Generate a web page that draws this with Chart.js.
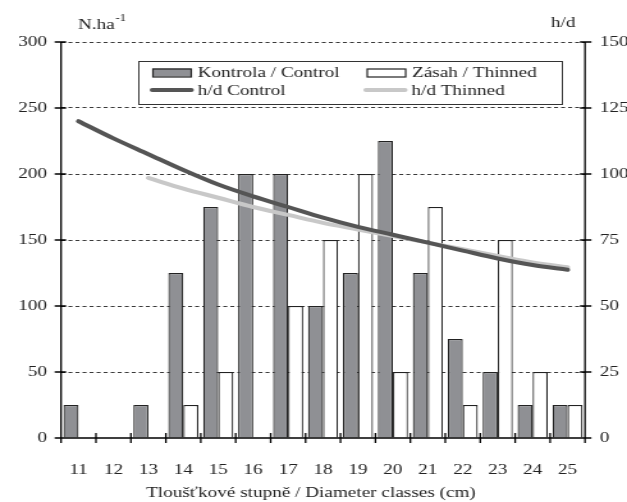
<!DOCTYPE html>
<html>
<head>
<meta charset="utf-8">
<script src="https://cdn.jsdelivr.net/npm/chart.js@4/dist/chart.umd.min.js"></script>
<style>
  html, body { margin: 0; padding: 0; background: #fff; overflow: hidden; }
  #wrap { width: 490px; height: 502px; position: relative; transform: scaleX(1.27959); transform-origin: 0 0; }
</style>
</head>
<body>
<div id="wrap"><canvas id="c" width="490" height="502"></canvas></div>
<script>
// Diameter classes (cm)
const classes = ['11', '12', '13', '14', '15', '16', '17', '18', '19', '20', '21', '22', '23', '24', '25'];
// Stems per hectare
const controlN = [25, 0, 25, 125, 175, 200, 200, 100, 125, 225, 125, 75, 50, 25, 25];
const thinnedN = [0, 0, 0, 25, 50, 0, 100, 150, 200, 50, 175, 25, 150, 50, 25];
// Slenderness ratio h/d
const hdControl = [120, 113.5, 107.5, 101.5, 96, 91.5, 87.5, 83.5, 80, 77, 74, 71, 68, 65.5, 63.7];
const hdThinned = [null, null, 98.5, 94.5, 91, 87.5, 84.5, 81.5, 79, 76.5, 74, 71.5, 69, 66.5, 64.7];
// Axis ticks
const leftTicks = [0, 50, 100, 150, 200, 250, 300];
const rightTicks = [0, 25, 50, 75, 100, 125, 150];

const SERIF = '"Liberation Serif", "DejaVu Serif", serif';
const BAR_GRAY = '#8f9094';

// Legend box inside the plot area, two columns by two rows
const boxLegend = {
  id: 'boxLegend',
  afterDraw(chart) {
    const ctx = chart.ctx;
    const ds = chart.data.datasets;
    ctx.save();
    ctx.fillStyle = '#fff';
    ctx.fillRect(108, 61, 332, 44);
    ctx.strokeStyle = '#333';
    ctx.lineWidth = 1;
    ctx.strokeRect(108.5, 61.5, 331, 43);

    const cells = [
      { d: ds[0], x: 119, y: 72.5 },
      { d: ds[1], x: 286.5, y: 72.5 },
      { d: ds[2], x: 119, y: 90 },
      { d: ds[3], x: 286, y: 90 }
    ];
    ctx.font = '15px ' + SERIF;
    ctx.textBaseline = 'middle';
    ctx.textAlign = 'left';
    cells.forEach(c => {
      if (c.d.type === 'bar') {
        ctx.fillStyle = c.d.backgroundColor;
        ctx.fillRect(c.x, c.y - 4, 30.5, 8);
        ctx.strokeStyle = '#222';
        ctx.lineWidth = 1.2;
        ctx.strokeRect(c.x + 0.5, c.y - 3.5, 30, 8);
      } else {
        ctx.strokeStyle = c.d.borderColor;
        ctx.lineWidth = 4;
        ctx.lineCap = 'round';
        ctx.beginPath();
        ctx.moveTo(c.x, c.y);
        ctx.lineTo(c.x + 30.5, c.y);
        ctx.stroke();
      }
      ctx.fillStyle = '#222';
      ctx.fillText(c.d.label, c.x + 35.5, c.y + 1);
    });
    ctx.restore();
  }
};

// Axis lines with tick marks crossing them, unit labels and the x-axis caption
const axisDecor = {
  id: 'axisDecor',
  afterDatasetsDraw(chart) {
    const ctx = chart.ctx;
    const a = chart.chartArea;
    const sx = chart.scales.x, sy = chart.scales.y, sy1 = chart.scales.y1;
    ctx.save();
    ctx.strokeStyle = '#000';
    ctx.lineWidth = 1.3;
    ctx.beginPath();
    // x axis, slightly overhanging both ends
    ctx.moveTo(a.left - 4.5, a.bottom);
    ctx.lineTo(a.right + 4, a.bottom);
    // x ticks at category boundaries
    for (let i = 0; i <= classes.length; i++) {
      const px = sx.getPixelForValue(i - 0.5);
      ctx.moveTo(px, a.bottom - 5);
      ctx.lineTo(px, a.bottom + 5);
    }
    // left axis and ticks
    ctx.moveTo(a.left, a.top);
    ctx.lineTo(a.left, a.bottom);
    leftTicks.forEach(v => {
      const py = sy.getPixelForValue(v);
      ctx.moveTo(a.left - 5, py);
      ctx.lineTo(a.left + 4, py);
    });
    // right axis and ticks
    ctx.moveTo(a.right, a.top);
    ctx.lineTo(a.right, a.bottom);
    rightTicks.forEach(v => {
      const py = sy1.getPixelForValue(v);
      ctx.moveTo(a.right - 4, py);
      ctx.lineTo(a.right + 5, py);
    });
    ctx.stroke();
    ctx.restore();
  },
  afterDraw(chart) {
    const ctx = chart.ctx;
    ctx.save();
    ctx.fillStyle = '#222';
    ctx.textBaseline = 'alphabetic';
    ctx.textAlign = 'left';
    ctx.font = '15px ' + SERIF;
    ctx.fillText('N.ha', 61, 29);
    const w = ctx.measureText('N.ha').width;
    ctx.font = '10px ' + SERIF;
    ctx.fillText('-1', 61 + w + 0.5, 21);
    ctx.font = '15px ' + SERIF;
    ctx.fillText('h/d', 430.5, 27);
    ctx.textAlign = 'center';
    ctx.fillText('Tloušťkové stupně / Diameter classes (cm)', 243, 497);
    ctx.restore();
  }
};

new Chart(document.getElementById('c'), {
  data: {
    labels: classes,
    datasets: [
      {
        type: 'bar', label: 'Kontrola / Control', data: controlN,
        backgroundColor: BAR_GRAY, borderColor: '#222', borderWidth: 1.2,
        yAxisID: 'y', order: 2, categoryPercentage: 0.86, barPercentage: 1.0
      },
      {
        type: 'bar', label: 'Zásah / Thinned', data: thinnedN,
        backgroundColor: '#ffffff', borderColor: '#222', borderWidth: 1.2,
        yAxisID: 'y', order: 2, categoryPercentage: 0.86, barPercentage: 1.0
      },
      {
        type: 'line', label: 'h/d Control', data: hdControl,
        borderColor: '#555555', borderWidth: 4, pointRadius: 0,
        cubicInterpolationMode: 'monotone', borderCapStyle: 'round',
        yAxisID: 'y1', order: 1, spanGaps: false
      },
      {
        type: 'line', label: 'h/d Thinned', data: hdThinned,
        borderColor: '#c8c8c8', borderWidth: 4, pointRadius: 0,
        cubicInterpolationMode: 'monotone', borderCapStyle: 'round',
        yAxisID: 'y1', order: 1, spanGaps: false
      }
    ]
  },
  options: {
    responsive: false,
    animation: false,
    layout: { padding: { top: 42, left: 0, right: 0, bottom: 0 } },
    plugins: { legend: { display: false }, tooltip: { enabled: false } },
    scales: {
      x: {
        offset: true,
        grid: { display: false },
        border: { display: false },
        ticks: { color: '#222', font: { family: SERIF, size: 15 }, padding: 15, maxRotation: 0 },
        afterFit: s => { s.height = 64; }
      },
      y: {
        position: 'left', min: 0, max: 300,
        afterBuildTicks: s => { s.ticks = leftTicks.map(v => ({ value: v })); },
        grid: {
          color: c => (c.tick && c.tick.value === 0) ? 'rgba(0,0,0,0)' : '#3a3a3a',
          lineWidth: 1, drawTicks: false
        },
        border: { display: false, dash: [3.1, 2.4] },
        ticks: { color: '#222', font: { family: SERIF, size: 15 }, padding: 11 },
        afterFit: s => { s.width = 47.7; }
      },
      y1: {
        position: 'right', min: 0, max: 150,
        afterBuildTicks: s => { s.ticks = rightTicks.map(v => ({ value: v })); },
        grid: { drawOnChartArea: false, drawTicks: false },
        border: { display: false },
        ticks: { color: '#222', font: { family: SERIF, size: 15 }, padding: 11.5 },
        afterFit: s => { s.width = 32.8; }
      }
    }
  },
  plugins: [boxLegend, axisDecor]
});
</script>
</body>
</html>
